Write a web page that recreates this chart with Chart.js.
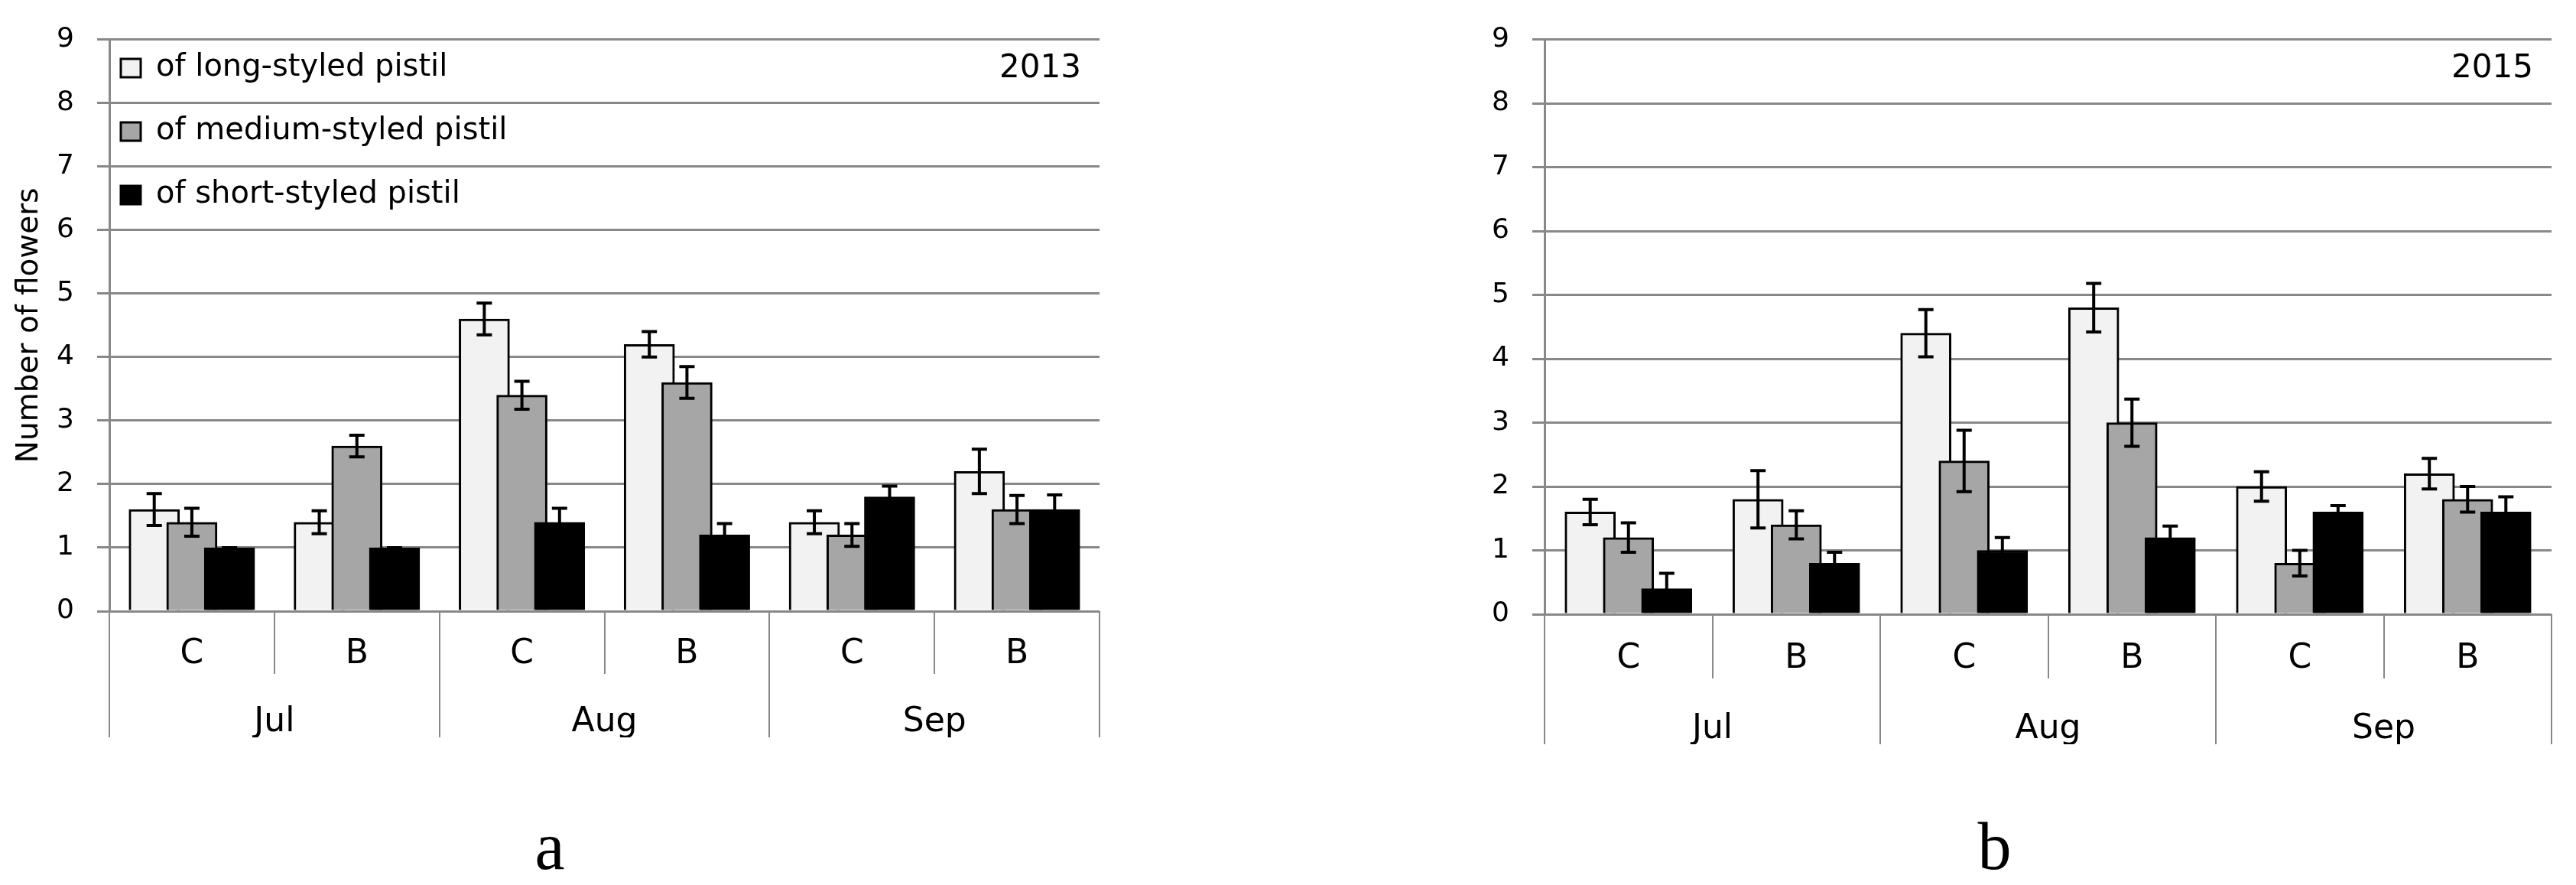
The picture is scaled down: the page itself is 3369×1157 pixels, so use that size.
<!DOCTYPE html>
<html>
<head>
<meta charset="utf-8">
<script src="https://cdn.jsdelivr.net/npm/chart.js@4.4.0/dist/chart.umd.min.js"></script>
<style>
  html, body { margin: 0; padding: 0; background: #fff; }
  body { width: 3369px; height: 1157px; position: relative; overflow: hidden; }
  #wrapA { position: absolute; left: 0; top: 0; width: 1460px; height: 1157px; }
  #wrapB { position: absolute; left: 1880px; top: 0; width: 1489px; height: 1157px; }
</style>
</head>
<body>
<div id="wrapA"><canvas id="chartA"></canvas></div>
<div id="wrapB"><canvas id="chartB"></canvas></div>
<script>
// categories
const sites = ["C", "B", "C", "B", "C", "B"];
const months = ["Jul", "Aug", "Sep"];
const seriesNames = ["of long-styled pistil", "of medium-styled pistil", "of short-styled pistil"];

// 2013 (panel a)
const long2013 = [1.6, 1.4, 4.6, 4.2, 1.4, 2.2];
const medium2013 = [1.4, 2.6, 3.4, 3.6, 1.2, 1.6];
const short2013 = [1.0, 1.0, 1.4, 1.2, 1.8, 1.6];
const longErr2013 = [0.25, 0.18, 0.25, 0.2, 0.18, 0.35];
const mediumErr2013 = [0.22, 0.17, 0.22, 0.25, 0.18, 0.22];
const shortErr2013 = [0, 0, 0.22, 0.18, 0.17, 0.23];

// 2015 (panel b)
const long2015 = [1.6, 1.8, 4.4, 4.8, 2.0, 2.2];
const medium2015 = [1.2, 1.4, 2.4, 3.0, 0.8, 1.8];
const short2015 = [0.4, 0.8, 1.0, 1.2, 1.6, 1.6];
const longErr2015 = [0.2, 0.45, 0.37, 0.38, 0.23, 0.24];
const mediumErr2015 = [0.23, 0.22, 0.48, 0.37, 0.2, 0.2];
const shortErr2015 = [0.24, 0.17, 0.2, 0.18, 0.1, 0.24];

// styling
const fills = ["#f2f2f2", "#a6a6a6", "#000000"];
const groupOffsets = [-0.228, 0, 0.228]; // bars overlap like the excel original
const FONT = "DejaVu Sans";

// error bars drawn from the y scale
const errorBars = {
  id: "errorBars",
  afterDatasetsDraw(chart, args, opts) {
    const ctx = chart.ctx;
    const y = chart.scales.y;
    ctx.save();
    ctx.strokeStyle = "#000";
    ctx.lineWidth = opts.width;
    chart.data.datasets.forEach((ds, i) => {
      const meta = chart.getDatasetMeta(i);
      meta.data.forEach((bar, j) => {
        const v = ds.data[j].y;
        const e = ds.errors[j];
        const top = y.getPixelForValue(v + e);
        const bot = y.getPixelForValue(v - e);
        ctx.beginPath();
        ctx.moveTo(bar.x, top);
        ctx.lineTo(bar.x, bot);
        ctx.moveTo(bar.x - opts.cap, top);
        ctx.lineTo(bar.x + opts.cap, top);
        ctx.moveTo(bar.x - opts.cap, bot);
        ctx.lineTo(bar.x + opts.cap, bot);
        ctx.stroke();
      });
    });
    ctx.restore();
  }
};

// year in the top right corner of the plot
const yearLabel = {
  id: "yearLabel",
  afterDatasetsDraw(chart, args, opts) {
    const a = chart.chartArea;
    const ctx = chart.ctx;
    ctx.save();
    ctx.fillStyle = "#000";
    ctx.font = "42px '" + FONT + "'";
    ctx.textAlign = "right";
    ctx.textBaseline = "middle";
    ctx.fillText(opts.text, a.right - opts.dx, a.top + opts.dy);
    ctx.restore();
  }
};

// move the in-plot legend to where the original has it
const legendNudge = {
  id: "legendNudge",
  afterLayout(chart, args, opts) {
    if (chart.legend && opts.dx !== undefined) {
      chart.legend.left += opts.dx;
      chart.legend.top += opts.dy;
    }
  }
};

function buildDatasets(values, errors) {
  return values.map((vals, k) => ({
    label: seriesNames[k],
    data: vals.map((v, i) => ({ x: i + groupOffsets[k], y: v })),
    errors: errors[k],
    backgroundColor: fills[k],
    borderColor: "#000",
    borderWidth: 3,
    barThickness: 66,
    grouped: false,
    order: 3 - k,
    xAxisID: "xb"
  }));
}

function makeChart(id, datasets, opt) {
  return new Chart(document.getElementById(id), {
    type: "bar",
    data: { datasets: datasets },
    options: {
      responsive: true,
      maintainAspectRatio: false,
      animation: false,
      devicePixelRatio: 1,
      layout: { padding: { top: opt.top, right: opt.right, left: 0, bottom: 0 } },
      scales: {
        xb: { type: "linear", display: false, offset: false, min: -0.5, max: 5.5 },
        x: {
          type: "category",
          labels: sites,
          position: "bottom",
          weight: 1,
          offset: true,
          grid: { offset: true, drawOnChartArea: false, tickLength: opt.row1, color: "#888", lineWidth: 2 },
          border: { display: false },
          ticks: { padding: -52, color: "#000", font: { family: FONT, size: 44 }, maxRotation: 0, autoSkip: false },
          afterFit: (s) => { s.height = opt.row1; }
        },
        xm: {
          type: "category",
          labels: months,
          position: "bottom",
          weight: 2,
          offset: true,
          grid: { offset: true, drawOnChartArea: false, tickLength: opt.row2, color: "#888", lineWidth: 2 },
          border: { display: false },
          ticks: { padding: -46, color: "#000", font: { family: FONT, size: 44 }, maxRotation: 0, autoSkip: false },
          afterFit: (s) => { s.height = opt.row2; }
        },
        y: {
          min: 0,
          max: 9,
          ticks: { stepSize: 1, padding: opt.tickPad, color: "#000", font: { family: FONT, size: 36 } },
          grid: { color: "#888", lineWidth: 3, tickLength: 16 },
          border: { color: "#888", width: 3 },
          title: {
            display: opt.yTitle !== "",
            text: opt.yTitle,
            color: "#000",
            font: { family: FONT, size: 39 },
            padding: { top: 15, bottom: 0 }
          },
          afterFit: (s) => { s.width = opt.yWidth; }
        }
      },
      plugins: {
        legend: {
          display: opt.legend,
          position: "chartArea",
          align: "start",
          labels: {
            boxWidth: 26,
            boxHeight: 24,
            padding: 43,
            color: "#000",
            font: { family: FONT, size: 40 },
            sort: (a, b) => a.datasetIndex - b.datasetIndex
          }
        },
        title: {
          display: true,
          position: "bottom",
          text: opt.letter,
          color: "#000",
          font: { family: "Liberation Serif", size: 88, weight: "normal", lineHeight: 1 },
          padding: { top: opt.gap, bottom: 0 }
        },
        tooltip: { enabled: false },
        errorBars: { width: 4, cap: 10 },
        yearLabel: { text: opt.year, dx: 24, dy: 38 },
        legendNudge: { dx: -28, dy: 26 }
      }
    },
    plugins: [errorBars, yearLabel, legendNudge]
  });
}

makeChart("chartA",
  buildDatasets([long2013, medium2013, short2013], [longErr2013, mediumErr2013, shortErr2013]),
  { top: 42, right: 22, row1: 82, row2: 83, gap: 105, yWidth: 143, tickPad: 30,
    yTitle: "Number of flowers", legend: true, letter: "a", year: "2013" });

makeChart("chartB",
  buildDatasets([long2015, medium2015, short2015], [longErr2015, mediumErr2015, shortErr2015]),
  { top: 34, right: 32, row1: 84, row2: 86, gap: 96, yWidth: 140, tickPad: 30,
    yTitle: "", legend: false, letter: "b", year: "2015" });
</script>
</body>
</html>
